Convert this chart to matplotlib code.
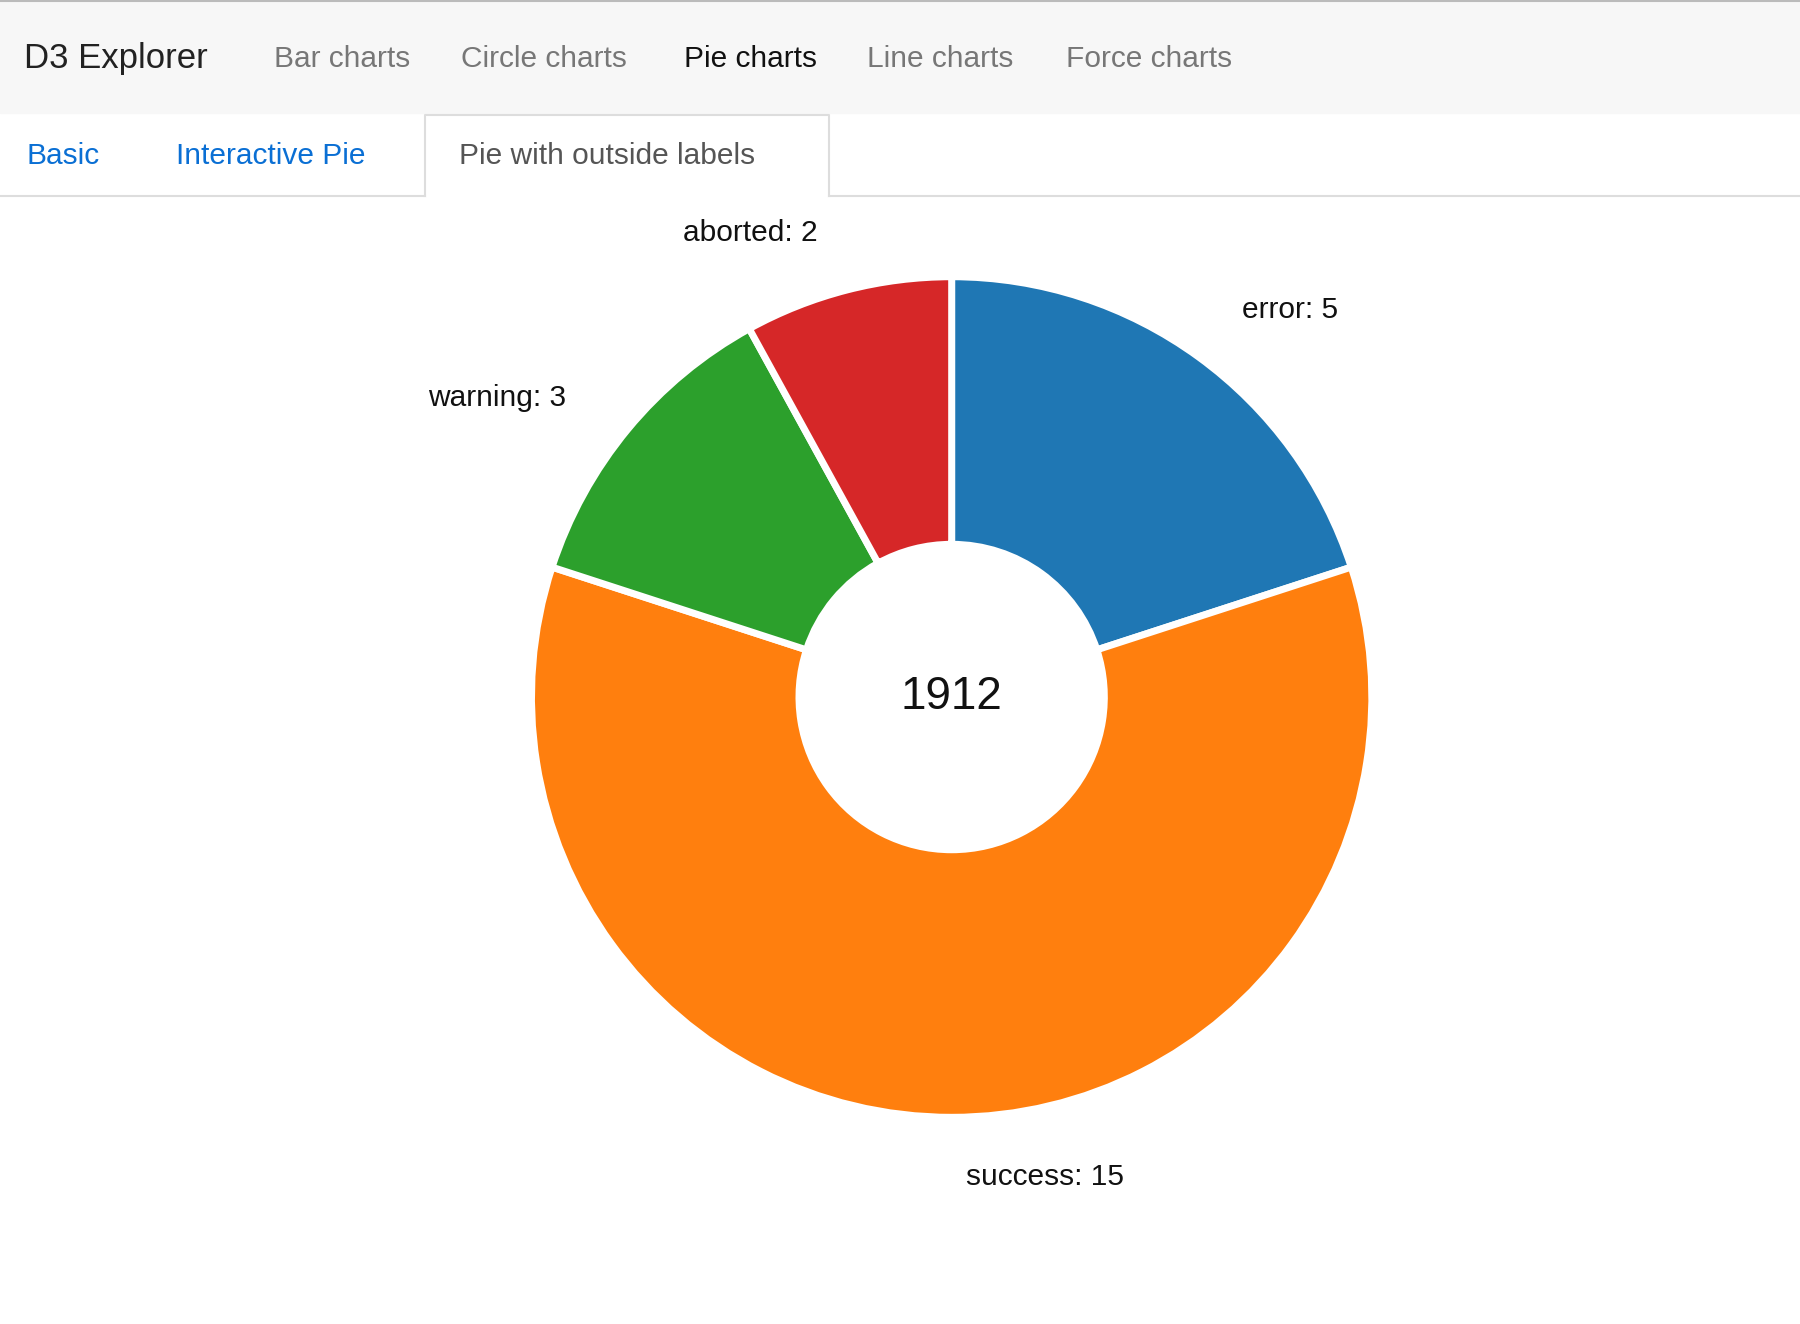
import matplotlib.pyplot as plt
from matplotlib.patches import Rectangle

plt.rcParams['font.family'] = ['Liberation Sans', 'DejaVu Sans']

# data
labels = ['error', 'success', 'warning', 'aborted']
values = [5, 15, 3, 2]
colors = ['#1f77b4', '#ff7f0e', '#2ca02c', '#d62728']
center_text = '1912'

nav_items = ['Bar charts', 'Circle charts', 'Pie charts', 'Line charts', 'Force charts']
nav_x = [239, 402, 596, 755, 929]
tabs = ['Basic', 'Interactive Pie', 'Pie with outside labels']
tab_x = [23, 153, 400]
label_pos = [(1124, 270), (910, 1025), (433, 347), (654, 203)]

W, H = 1568, 1153
fig = plt.figure(figsize=(18, 13.24), dpi=100)
ax = fig.add_axes([0, 0, 1, 1])

def Y(y):
    return H - y

# nav bar
ax.add_patch(Rectangle((0, Y(98)), W, 98, color='#f7f7f7', zorder=0))
ax.plot([0, W], [Y(1), Y(1)], color='#bbbbbb', lw=1.5)
ax.text(21, Y(51), 'D3 Explorer', fontsize=25, color='#222222', va='center')
for name, x in zip(nav_items, nav_x):
    c = '#111111' if name == 'Pie charts' else '#777777'
    ax.text(x, Y(51), name, fontsize=21.5, color=c, va='center')

# tabs
ax.plot([0, 370], [Y(171), Y(171)], color='#dddddd', lw=1.5)
ax.plot([722, W], [Y(171), Y(171)], color='#dddddd', lw=1.5)
ax.plot([370, 370, 722, 722], [Y(171), Y(100), Y(100), Y(171)], color='#dddddd', lw=1.5)
for i, (t, x) in enumerate(zip(tabs, tab_x)):
    c = '#555555' if i == 2 else '#0a6fd4'
    ax.text(x, Y(136), t, fontsize=21.5, color=c, va='center')

# donut
ax.pie(values, colors=colors, startangle=90, counterclock=False,
       radius=366, center=(829, Y(607)),
       wedgeprops=dict(width=233, edgecolor='white', linewidth=5))
ax.text(829, Y(607), center_text, fontsize=33, ha='center', va='center', color='#111111')
for lab, v, (x, y) in zip(labels, values, label_pos):
    ax.text(x, Y(y), f'{lab}: {v}', fontsize=21.5, ha='center', va='center', color='#111111')

ax.set_xlim(0, W)
ax.set_ylim(0, H)
ax.set_aspect('auto')
ax.axis('off')
fig.savefig('out.png', dpi=100)
